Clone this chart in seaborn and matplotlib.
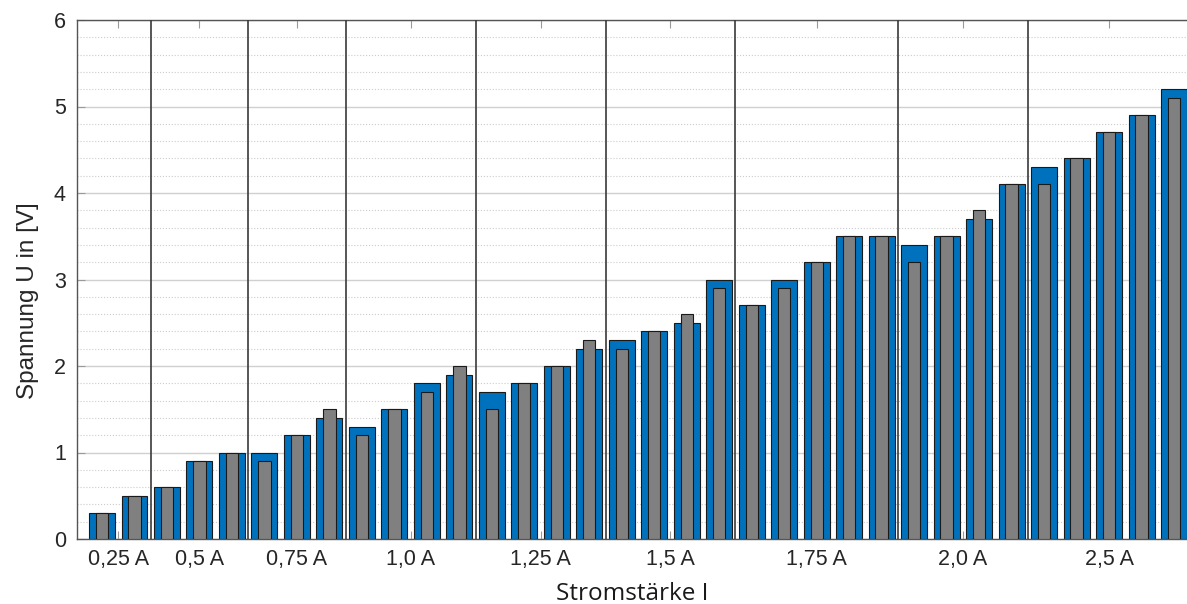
"""
plot.py
Overlapping bar chart: Spannung U vs. Stromstaerke I (two measurement series).
"""
import numpy as np
import pandas as pd
import matplotlib
matplotlib.use('Agg')
import matplotlib.pyplot as plt
from matplotlib.ticker import MultipleLocator
import seaborn as sns

# Group labels and number of measurements per group
group_labels = ['0,25 A', '0,5 A', '0,75 A', '1,0 A', '1,25 A', '1,5 A', '1,75 A', '2,0 A', '2,5 A']
group_sizes = [2, 3, 3, 4, 4, 4, 5, 4, 5]

# Measured voltages (blue = series 1, gray = series 2)
u_blue = [0.3, 0.5,
          0.6, 0.9, 1.0,
          1.0, 1.2, 1.4,
          1.3, 1.5, 1.8, 1.9,
          1.7, 1.8, 2.0, 2.2,
          2.3, 2.4, 2.5, 3.0,
          2.7, 3.0, 3.2, 3.5, 3.5,
          3.4, 3.5, 3.7, 4.1,
          4.3, 4.4, 4.7, 4.9, 5.2]
u_gray = [0.3, 0.5,
          0.6, 0.9, 1.0,
          0.9, 1.2, 1.5,
          1.2, 1.5, 1.7, 2.0,
          1.5, 1.8, 2.0, 2.3,
          2.2, 2.4, 2.6, 2.9,
          2.7, 2.9, 3.2, 3.5, 3.5,
          3.2, 3.5, 3.8, 4.1,
          4.1, 4.4, 4.7, 4.9, 5.1]

df = pd.DataFrame({
    'idx': np.arange(len(u_blue)),
    'blue': u_blue,
    'gray': u_gray,
})

sns.set_style('white')
plt.rcParams['font.family'] = ['Liberation Sans', 'DejaVu Sans']

fig = plt.figure(figsize=(11.87, 6.04), dpi=100)
ax = fig.add_axes([77 / 1187, 65 / 604, 1 - 77 / 1187, 519 / 604])

# Grid first so bars sit on top
ax.set_axisbelow(True)
ax.yaxis.set_major_locator(MultipleLocator(1))
ax.yaxis.set_minor_locator(MultipleLocator(0.2))
ax.grid(which='major', axis='y', color='#d0d0d0', linewidth=1.0, linestyle='-')
ax.grid(which='minor', axis='y', color='#cccccc', linewidth=0.8, linestyle=':')
ax.grid(which='major', axis='x', visible=False)

sns.barplot(data=df, x='idx', y='blue', color='#0072BD', saturation=1,
            width=0.8, edgecolor='#1a1a1a', linewidth=0.8, ax=ax, zorder=2)
sns.barplot(data=df, x='idx', y='gray', color='#808080', saturation=1,
            width=0.38, edgecolor='#1a1a1a', linewidth=0.8, ax=ax, zorder=3)

# Group separators and tick positions
bounds = np.cumsum(group_sizes)
for b in bounds[:-1]:
    ax.axvline(b - 0.5, color='#3a3a3a', linewidth=1.2, zorder=4)
starts = np.concatenate([[0], bounds[:-1]])
centers = (starts + bounds - 1) / 2.0

ax.set_xticks(centers)
ax.set_xticklabels(group_labels)
ax.set_xlim(-0.77, 33.4)
ax.set_ylim(0, 6)

ax.tick_params(axis='both', which='major', direction='in', length=6, width=0.8,
               color='#9a9a9a', labelsize=15.5, labelcolor='#262626',
               top=True, bottom=True, left=True, right=False, pad=7)
ax.tick_params(axis='y', which='minor', length=0)
ax.tick_params(axis='y', pad=8)

for side in ['left', 'bottom', 'top']:
    ax.spines[side].set_color('#555555')
    ax.spines[side].set_linewidth(1.0)
ax.spines['right'].set_visible(False)

ax.set_ylabel('Spannung U in [V]', fontsize=17.5, color='#262626')
ax.yaxis.set_label_coords(-0.034, 0.46)
ax.set_xlabel('Stromstärke I', fontsize=17.5, color='#1a1a1a',
              family=['Open Sans', 'DejaVu Sans'], labelpad=9)

fig.savefig('out.png', dpi=100)
